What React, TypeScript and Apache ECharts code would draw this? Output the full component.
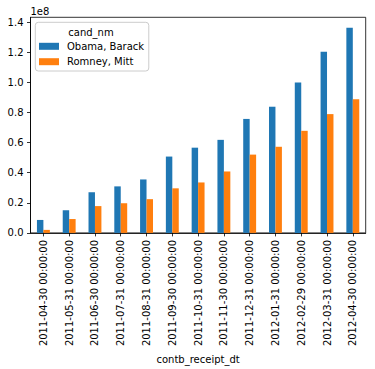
import React, { useEffect, useRef } from "react";
import * as echarts from "echarts";

const categories = [
  "2011-04-30 00:00:00",
  "2011-05-31 00:00:00",
  "2011-06-30 00:00:00",
  "2011-07-31 00:00:00",
  "2011-08-31 00:00:00",
  "2011-09-30 00:00:00",
  "2011-10-31 00:00:00",
  "2011-11-30 00:00:00",
  "2011-12-31 00:00:00",
  "2012-01-31 00:00:00",
  "2012-02-29 00:00:00",
  "2012-03-31 00:00:00",
  "2012-04-30 00:00:00",
];

const obama = [
  8.6e6, 15.1e6, 27.0e6, 30.9e6, 35.5e6, 50.7e6, 56.6e6, 61.8e6, 75.7e6, 83.8e6,
  99.9e6, 120.4e6, 136.2e6,
];
const romney = [
  2.0e6, 9.2e6, 17.8e6, 19.7e6, 22.4e6, 29.6e6, 33.5e6, 40.8e6, 52.0e6, 57.2e6,
  67.8e6, 78.9e6, 88.8e6,
];

const seriesNames = ["Obama, Barack", "Romney, Mitt"];
const yTicks = [0, 0.2, 0.4, 0.6, 0.8, 1.0, 1.2, 1.4];

const FONT = "DejaVu Sans";

export default function App() {
  const ref = useRef<HTMLDivElement>(null);
  useEffect(() => {
    if (!ref.current) return;
    const chart = echarts.init(ref.current, null, { renderer: "svg" });
    const option: any = {
      animation: false,
      textStyle: { fontFamily: FONT },
      grid: {
        left: 30.5,
        right: 9.3,
        top: 17.3,
        bottom: 134,
        show: true,
        borderColor: "#000",
        borderWidth: 0.8,
        backgroundColor: "transparent",
      },
      legend: {
        orient: "vertical",
        left: 35.3,
        top: 22.3,
        data: seriesNames,
        itemWidth: 20,
        itemHeight: 7,
        itemGap: 3.4,
        padding: [18, 4.7, 3.3, 3.7],
        backgroundColor: "rgba(255,255,255,0.8)",
        borderColor: "#cccccc",
        borderWidth: 1,
        borderRadius: 3,
        icon: "rect",
        textStyle: {
          fontFamily: FONT,
          fontSize: 10,
          color: "#000",
          lineHeight: 12,
          padding: [0, 0, 0, 3],
        },
      },
      xAxis: {
        type: "category",
        data: categories,
        name: "contb_receipt_dt",
        nameLocation: "middle",
        nameGap: 117,
        nameTextStyle: { fontFamily: FONT, fontSize: 10, color: "#000" },
        axisLine: { show: true, lineStyle: { color: "#000", width: 0.8 } },
        axisTick: {
          show: true,
          alignWithLabel: true,
          length: 3.5,
          lineStyle: { color: "#000", width: 0.8 },
        },
        axisLabel: {
          rotate: 90,
          interval: 0,
          margin: 7,
          fontFamily: FONT,
          fontSize: 10,
          color: "#000",
        },
        splitLine: { show: false },
      },
      yAxis: {
        type: "value",
        min: 0,
        max: 1.432e8,
        interval: 0.2e8,
        axisLine: { show: true, lineStyle: { color: "#000", width: 0.8 } },
        axisTick: {
          show: true,
          length: 3.5,
          lineStyle: { color: "#000", width: 0.8 },
        },
        axisLabel: {
          margin: 7,
          fontFamily: FONT,
          fontSize: 10,
          color: "#000",
          showMaxLabel: false,
          formatter: (v: number) => {
            const t = v / 1e8;
            const match = yTicks.find((y) => Math.abs(y - t) < 1e-6);
            return match === undefined ? "" : match.toFixed(1);
          },
        },
        splitLine: { show: false },
      },
      series: [
        {
          name: seriesNames[0],
          type: "bar",
          data: obama,
          barWidth: 6.45,
          barGap: "0%",
          itemStyle: { color: "#1f77b4" },
        },
        {
          name: seriesNames[1],
          type: "bar",
          data: romney,
          barWidth: 6.45,
          barGap: "0%",
          itemStyle: { color: "#ff7f0e" },
        },
      ],
      graphic: [
        {
          type: "text",
          left: 30.5,
          top: 6.5,
          style: {
            text: "1e8",
            fontFamily: FONT,
            fontSize: 10,
            fill: "#000",
          },
        },
        {
          type: "text",
          x: 91,
          y: 32,
          z: 100,
          style: {
            text: "cand_nm",
            fontFamily: FONT,
            fontSize: 10,
            fill: "#000",
            align: "center",
            verticalAlign: "middle",
          },
        },
      ],
    };
    chart.setOption(option);
    return () => chart.dispose();
  }, []);
  return (
    <div
      ref={ref}
      style={{ position: "fixed", left: 0, top: 0, width: 375, height: 369, background: "#fff" }}
    />
  );
}
